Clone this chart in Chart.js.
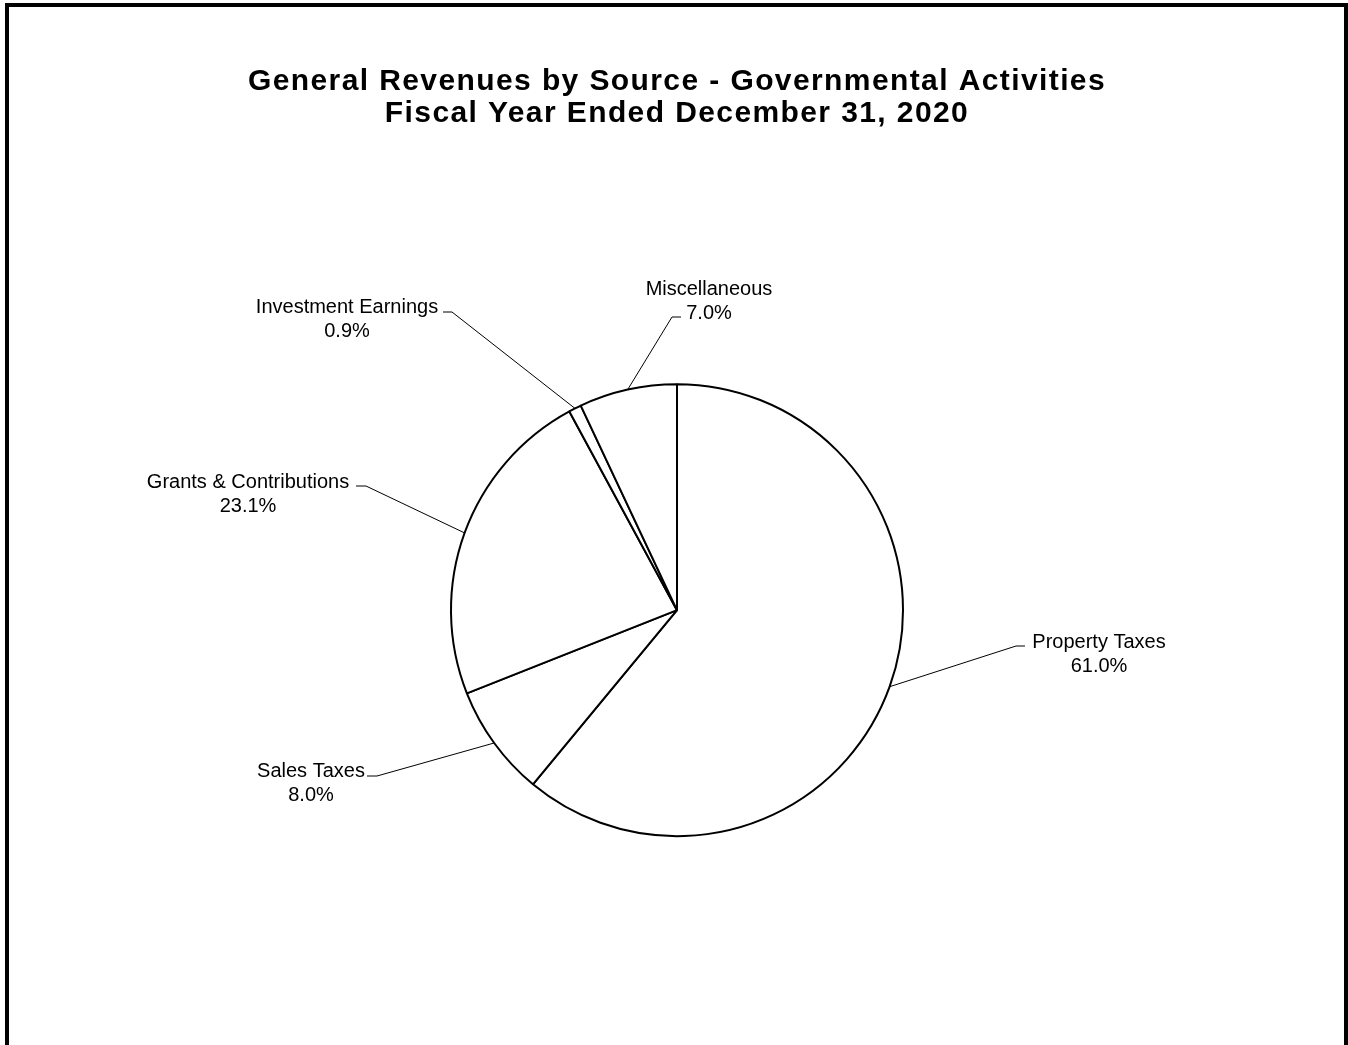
<!DOCTYPE html>
<html>
<head>
<meta charset="utf-8">
<title>General Revenues by Source</title>
<script src="https://cdn.jsdelivr.net/npm/chart.js@4.4.1/dist/chart.umd.min.js"></script>
<style>
    html, body { margin: 0; padding: 0; background: #fff; overflow: hidden; }
    #wrap { position: relative; width: 1348px; height: 1045px; }
    #revChart { position: absolute; left: 0; top: 0; }
    #frame {
        position: absolute; left: 5px; top: 3px; width: 1343px; height: 1100px;
        box-sizing: border-box; border: 4px solid #000; pointer-events: none;
    }
</style>
</head>
<body>
<div id="wrap">
    <canvas id="revChart" width="1348" height="1045"></canvas>
    <div id="frame"></div>
</div>
<script>
const categories = ['Property Taxes', 'Sales Taxes', 'Grants & Contributions', 'Investment Earnings', 'Miscellaneous'];
const percentages = [61.0, 8.0, 23.1, 0.9, 7.0];
const titleLines = ['General Revenues by Source - Governmental Activities', 'Fiscal Year Ended December 31, 2020'];

// where Excel put each callout: text centre x, first baseline, leader elbow x/y, end of the short tick
const callouts = [
    {cx: 1099, base: 648, ex: 1016, ey: 646, hx: 1025},
    {cx: 311, base: 777, ex: 377, ey: 776, hx: 367},
    {cx: 248, base: 488, ex: 366, ey: 486, hx: 356},
    {cx: 347, base: 313, ex: 452, ey: 312, hx: 443},
    {cx: 709, base: 295, ex: 672, ey: 317, hx: 681}
];

// the excel title is rendered wider than canvas bold arial, so space the letters a bit
const titleSpacing = {
    id: 'titleSpacing',
    beforeDraw(chart) {
        chart.ctx.letterSpacing = '1.4px';
    },
    beforeDatasetsDraw(chart) {
        chart.ctx.letterSpacing = '0px';
    }
};

const leaderLabels = {
    id: 'leaderLabels',
    afterDatasetsDraw(chart) {
        const ctx = chart.ctx;
        const arcs = chart.getDatasetMeta(0).data;
        ctx.save();
        ctx.letterSpacing = '0px';
        ctx.strokeStyle = '#000';
        ctx.lineWidth = 1;
        ctx.fillStyle = '#000';
        ctx.font = '20px "Liberation Sans", Arial, sans-serif';
        ctx.textAlign = 'center';
        ctx.textBaseline = 'alphabetic';
        arcs.forEach((arc, i) => {
            const c = callouts[i];
            const mid = (arc.startAngle + arc.endAngle) / 2;
            const px = arc.x + Math.cos(mid) * arc.outerRadius;
            const py = arc.y + Math.sin(mid) * arc.outerRadius;
            ctx.beginPath();
            ctx.moveTo(px, py);
            ctx.lineTo(c.ex, c.ey);
            ctx.lineTo(c.hx, c.ey);
            ctx.stroke();
            ctx.fillText(categories[i], c.cx, c.base);
            ctx.fillText(percentages[i].toFixed(1) + '%', c.cx, c.base + 23.5);
        });
        ctx.restore();
    }
};

const data = {
    labels: categories,
    datasets: [{
            data: percentages,
            backgroundColor: '#ffffff',
            borderColor: '#000000',
            borderWidth: 2,
            hoverOffset: 0
        }]
};
const config = {
    type: 'pie',
    data: data,
    options: {
        responsive: false,
        animation: false,
        devicePixelRatio: 1,
        radius: 226,
        layout: {
            padding: {left: 56, right: 50, top: 0, bottom: 20}
        },
        plugins: {
            legend: {display: false},
            tooltip: {enabled: false},
            title: {
                display: true,
                text: titleLines,
                color: '#000',
                font: {family: '"Liberation Sans", Arial, sans-serif', size: 30, weight: 'bold', lineHeight: 1.055},
                padding: {top: 66, bottom: 66}
            }
        }
    },
    plugins: [titleSpacing, leaderLabels]
};
let ctx = document.getElementById('revChart').getContext('2d');
new Chart(ctx, config);
</script>
</body>
</html>
